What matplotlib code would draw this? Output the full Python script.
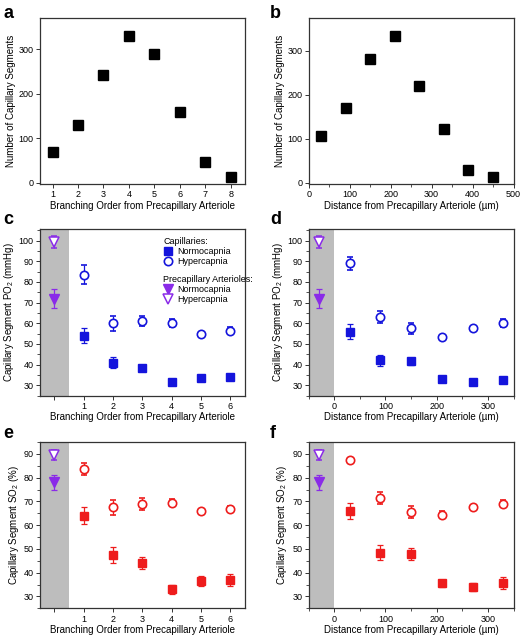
import matplotlib
matplotlib.use('Agg')
import matplotlib.pyplot as plt
from matplotlib.lines import Line2D
from matplotlib.ticker import MultipleLocator

plt.rcParams['font.family'] = ['Liberation Sans', 'DejaVu Sans']
plt.rcParams['mathtext.default'] = 'regular'
plt.rcParams['font.size'] = 6.5

BLUE = '#1414dc'
RED = '#ee1c1c'
PURPLE = '#8a2be8'
GRAY = '#bdbdbd'

# panel a / b: segment counts
order_a = [1, 2, 3, 4, 5, 6, 7, 8]
count_a = [68, 130, 241, 330, 288, 159, 47, 14]
dist_b = [30, 90, 150, 210, 270, 330, 390, 450]
count_b = [106, 169, 281, 334, 221, 123, 30, 13]

# capillary positions
order = [1, 2, 3, 4, 5, 6]
dist = [30, 90, 150, 210, 270, 330]

# PO2 vs branching order (c)
po2_c_norm = [54, 41, 38.5, 31.5, 33.5, 34]
po2_c_norm_err = [3.5, 2.5, 1.2, 0.8, 0.8, 0.8]
po2_c_hyp = [83.5, 60, 61, 60, 55, 56.5]
po2_c_hyp_err = [4.5, 3.5, 2.5, 2, 1, 1.5]
# PO2 vs distance (d)
po2_d_norm = [56, 42, 41.5, 33, 31.5, 32.5]
po2_d_norm_err = [3.5, 2.5, 1.5, 0.8, 0.8, 0.8]
po2_d_hyp = [89, 63, 57.5, 53.5, 57.5, 60]
po2_d_hyp_err = [3, 3, 2.5, 1, 1, 2]
# arterioles PO2
po2_art_norm, po2_art_norm_err = 72, 4.5
po2_art_hyp, po2_art_hyp_err = 99.5, 3

# SO2 vs branching order (e)
so2_e_norm = [64, 47.5, 44, 33, 36.5, 37]
so2_e_norm_err = [3.5, 3.5, 2.5, 2, 2, 2.5]
so2_e_hyp = [83.5, 67.5, 69, 69.5, 66, 67]
so2_e_hyp_err = [2.5, 3, 2.5, 1.5, 1, 1]
# SO2 vs distance (f)
so2_f_norm = [66, 48.5, 48, 35.5, 34, 35.5]
so2_f_norm_err = [3.5, 3, 2.5, 1.5, 1.5, 2.5]
so2_f_hyp = [87.5, 71.5, 65.5, 64.5, 67.5, 69]
so2_f_hyp_err = [1, 2.5, 2.5, 1.5, 1, 1.5]
# arterioles SO2
so2_art_norm, so2_art_norm_err = 78, 3
so2_art_hyp, so2_art_hyp_err = 89.5, 2

xl_order = 'Branching Order from Precapillary Arteriole'
xl_dist = 'Distance from Precapillary Arteriole (\u00b5m)'

fig = plt.figure(figsize=(5.24, 6.37), dpi=100)
W = 0.391
H = 0.261
lefts = [0.076, 0.589]
bottoms = [0.711, 0.379, 0.045]
axs = {}
for i, row in enumerate(['ab', 'cd', 'ef']):
    for j, k in enumerate(row):
        axs[k] = fig.add_axes([lefts[j], bottoms[i], W, H])

for k, ax in axs.items():
    for s in ax.spines.values():
        s.set_color('#333333')
        s.set_linewidth(0.9)
    ax.tick_params(direction='out', length=3, width=0.7, color='#333333', labelsize=6.5, pad=1.5)
    ax.tick_params(which='minor', direction='out', length=2, width=0.6, color='#333333')

xlab_kw = dict(fontsize=7, labelpad=1)
ylab_kw = dict(fontsize=7, labelpad=2)

# a
ax = axs['a']
ax.plot(order_a, count_a, 's', color='black', ms=7)
ax.set_xlim(0.5, 8.55)
ax.set_ylim(-3, 370)
ax.set_xticks(order_a)
ax.set_yticks([0, 100, 200, 300])
ax.set_xlabel(xl_order, **xlab_kw)
ax.set_ylabel('Number of Capillary Segments', **ylab_kw)

# b
ax = axs['b']
ax.plot(dist_b, count_b, 's', color='black', ms=7)
ax.set_xlim(0, 500)
ax.set_ylim(-3, 375)
ax.set_xticks([0, 100, 200, 300, 400, 500])
ax.xaxis.set_minor_locator(MultipleLocator(50))
ax.set_yticks([0, 100, 200, 300])
ax.set_xlabel(xl_dist, **xlab_kw)
ax.set_ylabel('Number of Capillary Segments', **ylab_kw)


def panel(ax, xs, norm, norm_err, hyp, hyp_err, art, color, art_x, dist_axis):
    eb = dict(capsize=2.5, elinewidth=0.9, capthick=0.9, ls='none')
    ax.errorbar(xs, norm, yerr=norm_err, fmt='s', color=color, ms=5.5, **eb)
    ax.errorbar(xs, hyp, yerr=hyp_err, fmt='o', color=color, mfc='white',
                mec=color, mew=1.2, ms=6, **eb)
    ax.errorbar([art_x], [art[0]], yerr=[art[1]], fmt='v', color=PURPLE, ms=6.5, **eb)
    ax.errorbar([art_x], [art[2]], yerr=[art[3]], fmt='v', color=PURPLE, mfc='white',
                mec=PURPLE, mew=1.1, ms=6.5, **eb)
    if dist_axis:
        ax.set_xlim(-50, 350)
        ax.axvspan(-50, 0, color=GRAY, zorder=0, lw=0)
        ax.set_xticks([0, 100, 200, 300])
        ax.xaxis.set_minor_locator(MultipleLocator(50))
        ax.set_xlabel(xl_dist, **xlab_kw)
    else:
        ax.set_xlim(-0.5, 6.5)
        ax.axvspan(-0.5, 0.5, color=GRAY, zorder=0, lw=0)
        ax.set_xticks([0] + order)
        ax.set_xticklabels([''] + [str(o) for o in order])
        ax.set_xlabel(xl_order, **xlab_kw)
    ax.yaxis.set_minor_locator(MultipleLocator(5))


art_po2 = [po2_art_norm, po2_art_norm_err, po2_art_hyp, po2_art_hyp_err]
art_so2 = [so2_art_norm, so2_art_norm_err, so2_art_hyp, so2_art_hyp_err]

panel(axs['c'], order, po2_c_norm, po2_c_norm_err, po2_c_hyp, po2_c_hyp_err, art_po2, BLUE, 0, False)
panel(axs['d'], dist, po2_d_norm, po2_d_norm_err, po2_d_hyp, po2_d_hyp_err, art_po2, BLUE, -30, True)
panel(axs['e'], order, so2_e_norm, so2_e_norm_err, so2_e_hyp, so2_e_hyp_err, art_so2, RED, 0, False)
panel(axs['f'], dist, so2_f_norm, so2_f_norm_err, so2_f_hyp, so2_f_hyp_err, art_so2, RED, -30, True)

for k in 'cd':
    axs[k].set_ylim(25, 105.5)
    axs[k].set_yticks(range(30, 101, 10))
    axs[k].set_ylabel('Capillary Segment PO$_2$ (mmHg)', **ylab_kw)
for k in 'ef':
    axs[k].set_ylim(25, 95)
    axs[k].set_yticks(range(30, 91, 10))
    axs[k].set_ylabel('Capillary Segment SO$_2$ (%)', **ylab_kw)

# legend in c
ax = axs['c']
h_cap = [Line2D([], [], marker='s', ls='none', color=BLUE, ms=5.5),
         Line2D([], [], marker='o', ls='none', color=BLUE, mfc='white', mew=1.2, ms=6)]
h_art = [Line2D([], [], marker='v', ls='none', color=PURPLE, ms=6.5),
         Line2D([], [], marker='v', ls='none', color=PURPLE, mfc='white', mew=1.1, ms=6.5)]
leg_kw = dict(frameon=False, alignment='left', fontsize=6.5, title_fontsize=6.5,
              handlelength=1.0, handletextpad=0.6, labelspacing=0.1, borderpad=0.1)
leg1 = ax.legend(h_cap, ['Normocapnia', 'Hypercapnia'], title='Capillaries:',
                 loc='upper left', bbox_to_anchor=(0.575, 0.985), **leg_kw)
ax.add_artist(leg1)
ax.legend(h_art, ['Normocapnia', 'Hypercapnia'], title='Precapillary Arterioles:',
          loc='upper left', bbox_to_anchor=(0.575, 0.755), **leg_kw)

# panel letters
for k, (x, y) in {'a': (0.006, 0.992), 'b': (0.515, 0.992), 'c': (0.006, 0.668),
                  'd': (0.515, 0.668), 'e': (0.006, 0.333), 'f': (0.515, 0.333)}.items():
    fig.text(x, y, k, fontsize=13, fontweight='bold', va='top', ha='left')

fig.savefig('out.png', dpi=100)
